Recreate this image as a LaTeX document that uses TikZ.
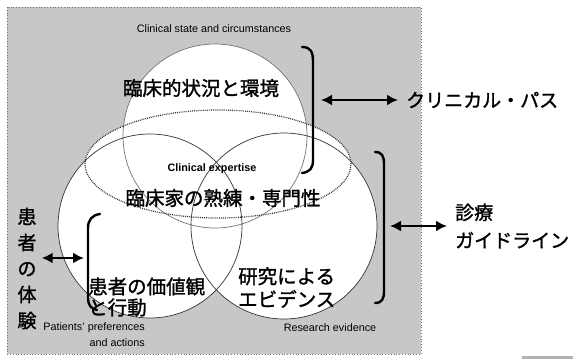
\documentclass[tikz,border=0pt]{standalone}
\usepackage{fontspec}
\setmainfont{Liberation Sans}
\newfontfamily\jpfont{Noto Sans CJK JP}[FakeBold=1.4]
\usetikzlibrary{arrows.meta}
\begin{document}
\begin{tikzpicture}[x=1pt,y=-1pt,
  jp/.style={font=\jpfont\fontsize{19.5}{21}\selectfont, inner sep=0pt},
  en/.style={font=\fontsize{10.8}{13}\selectfont, inner sep=0pt},
  ring/.style={line width=0.7pt, draw=black!80},
  softring/.style={line width=0.7pt, draw=black!55},
  expert/.style={line width=1.2pt, draw=black!80, dash pattern=on 0.9pt off 1pt},
  brace/.style={line width=2.4pt, line cap=round},
  dbl/.style={line width=2.6pt, {Latex[length=11pt,width=11pt]}-{Latex[length=11pt,width=11pt]}},
]
\useasboundingbox (0,0) rectangle (573,361);

% grey panel
\fill[black!22] (7,7) rectangle (421,354);
\draw[black!55, line width=0.8pt, dotted] (7,7) rectangle (421,354);
\fill[black!30] (522,356) rectangle (573,359);

% white interiors of the three circles and the expertise oval
\fill[white] (215,136) circle[radius=92pt];
\fill[white] (150,226) circle[radius=92pt];
\fill[white] (284,226) circle[radius=93pt];
\fill[white] (218,164) ellipse[x radius=133pt, y radius=54pt];

% outlines
\draw[softring] (215,136) circle[radius=92pt];
\draw[ring] (150,226) circle[radius=92pt];
\draw[ring] (284,226) circle[radius=93pt];
\draw[expert] (218,164) ellipse[x radius=133pt, y radius=54pt];

% labels inside the panel
\node[en] (stateEn) at (214,29) {Clinical state and circumstances};
\node[jp] (stateJp) at (201,88) {臨床的状況と環境};
\node[en, font=\bfseries\fontsize{10.8}{13}\selectfont] (expertEn) at (212,169) {Clinical expertise};
\node[jp] (expertJp) at (223,198) {臨床家の熟練・専門性};
\node[jp, align=left, anchor=west] (prefJp) at (88,297) {患者の価値観\\と行動};
\node[jp, align=left, anchor=west, font=\jpfont\fontsize{19.5}{23}\selectfont] (evidJp) at (238,287.5) {研究による\\エビデンス};
\node[en, align=right, anchor=east, font=\fontsize{10.8}{16}\selectfont] (prefEn) at (145,335) {Patients' preferences\\and actions};
\node[en] (evidEn) at (330,328) {Research evidence};
\node[jp, align=center, font=\jpfont\fontsize{19}{26}\selectfont] (experience) at (27,268.5) {患\\者\\の\\体\\験};

% outside labels
\node[jp, anchor=west, font=\jpfont\fontsize{19}{21}\selectfont] (path) at (406,100) {クリニカル・パス};
\node[jp, align=left, anchor=west, font=\jpfont\fontsize{19}{28}\selectfont] (guide) at (455,226) {診療\\ガイドライン};

% brackets
\draw[brace] (302,47) .. controls (311,47) and (313,52) .. (313,62) -- (313,160) .. controls (313,168) and (310,172) .. (302,173);
\draw[brace] (375,152) .. controls (382,152) and (384,156) .. (384,164) -- (384,291) .. controls (384,299) and (382,303) .. (375,303);
\draw[brace] (100,214) .. controls (92,215) and (88,220) .. (88,228) -- (88,298) .. controls (88,305) and (91,309) .. (97,310);

% arrow ends on the brackets
\coordinate (topBr) at (321,100);
\coordinate (rightBr) at (390,226);
\coordinate (leftBr) at (84,258);

% connectors
\draw[dbl, shorten >=8pt] (topBr) -- (path.west |- topBr);
\draw[dbl, shorten >=8pt] (rightBr) -- (guide.west |- rightBr);
\draw[dbl, shorten >=5pt] (leftBr) -- (experience.east |- leftBr);
\end{tikzpicture}
\end{document}
